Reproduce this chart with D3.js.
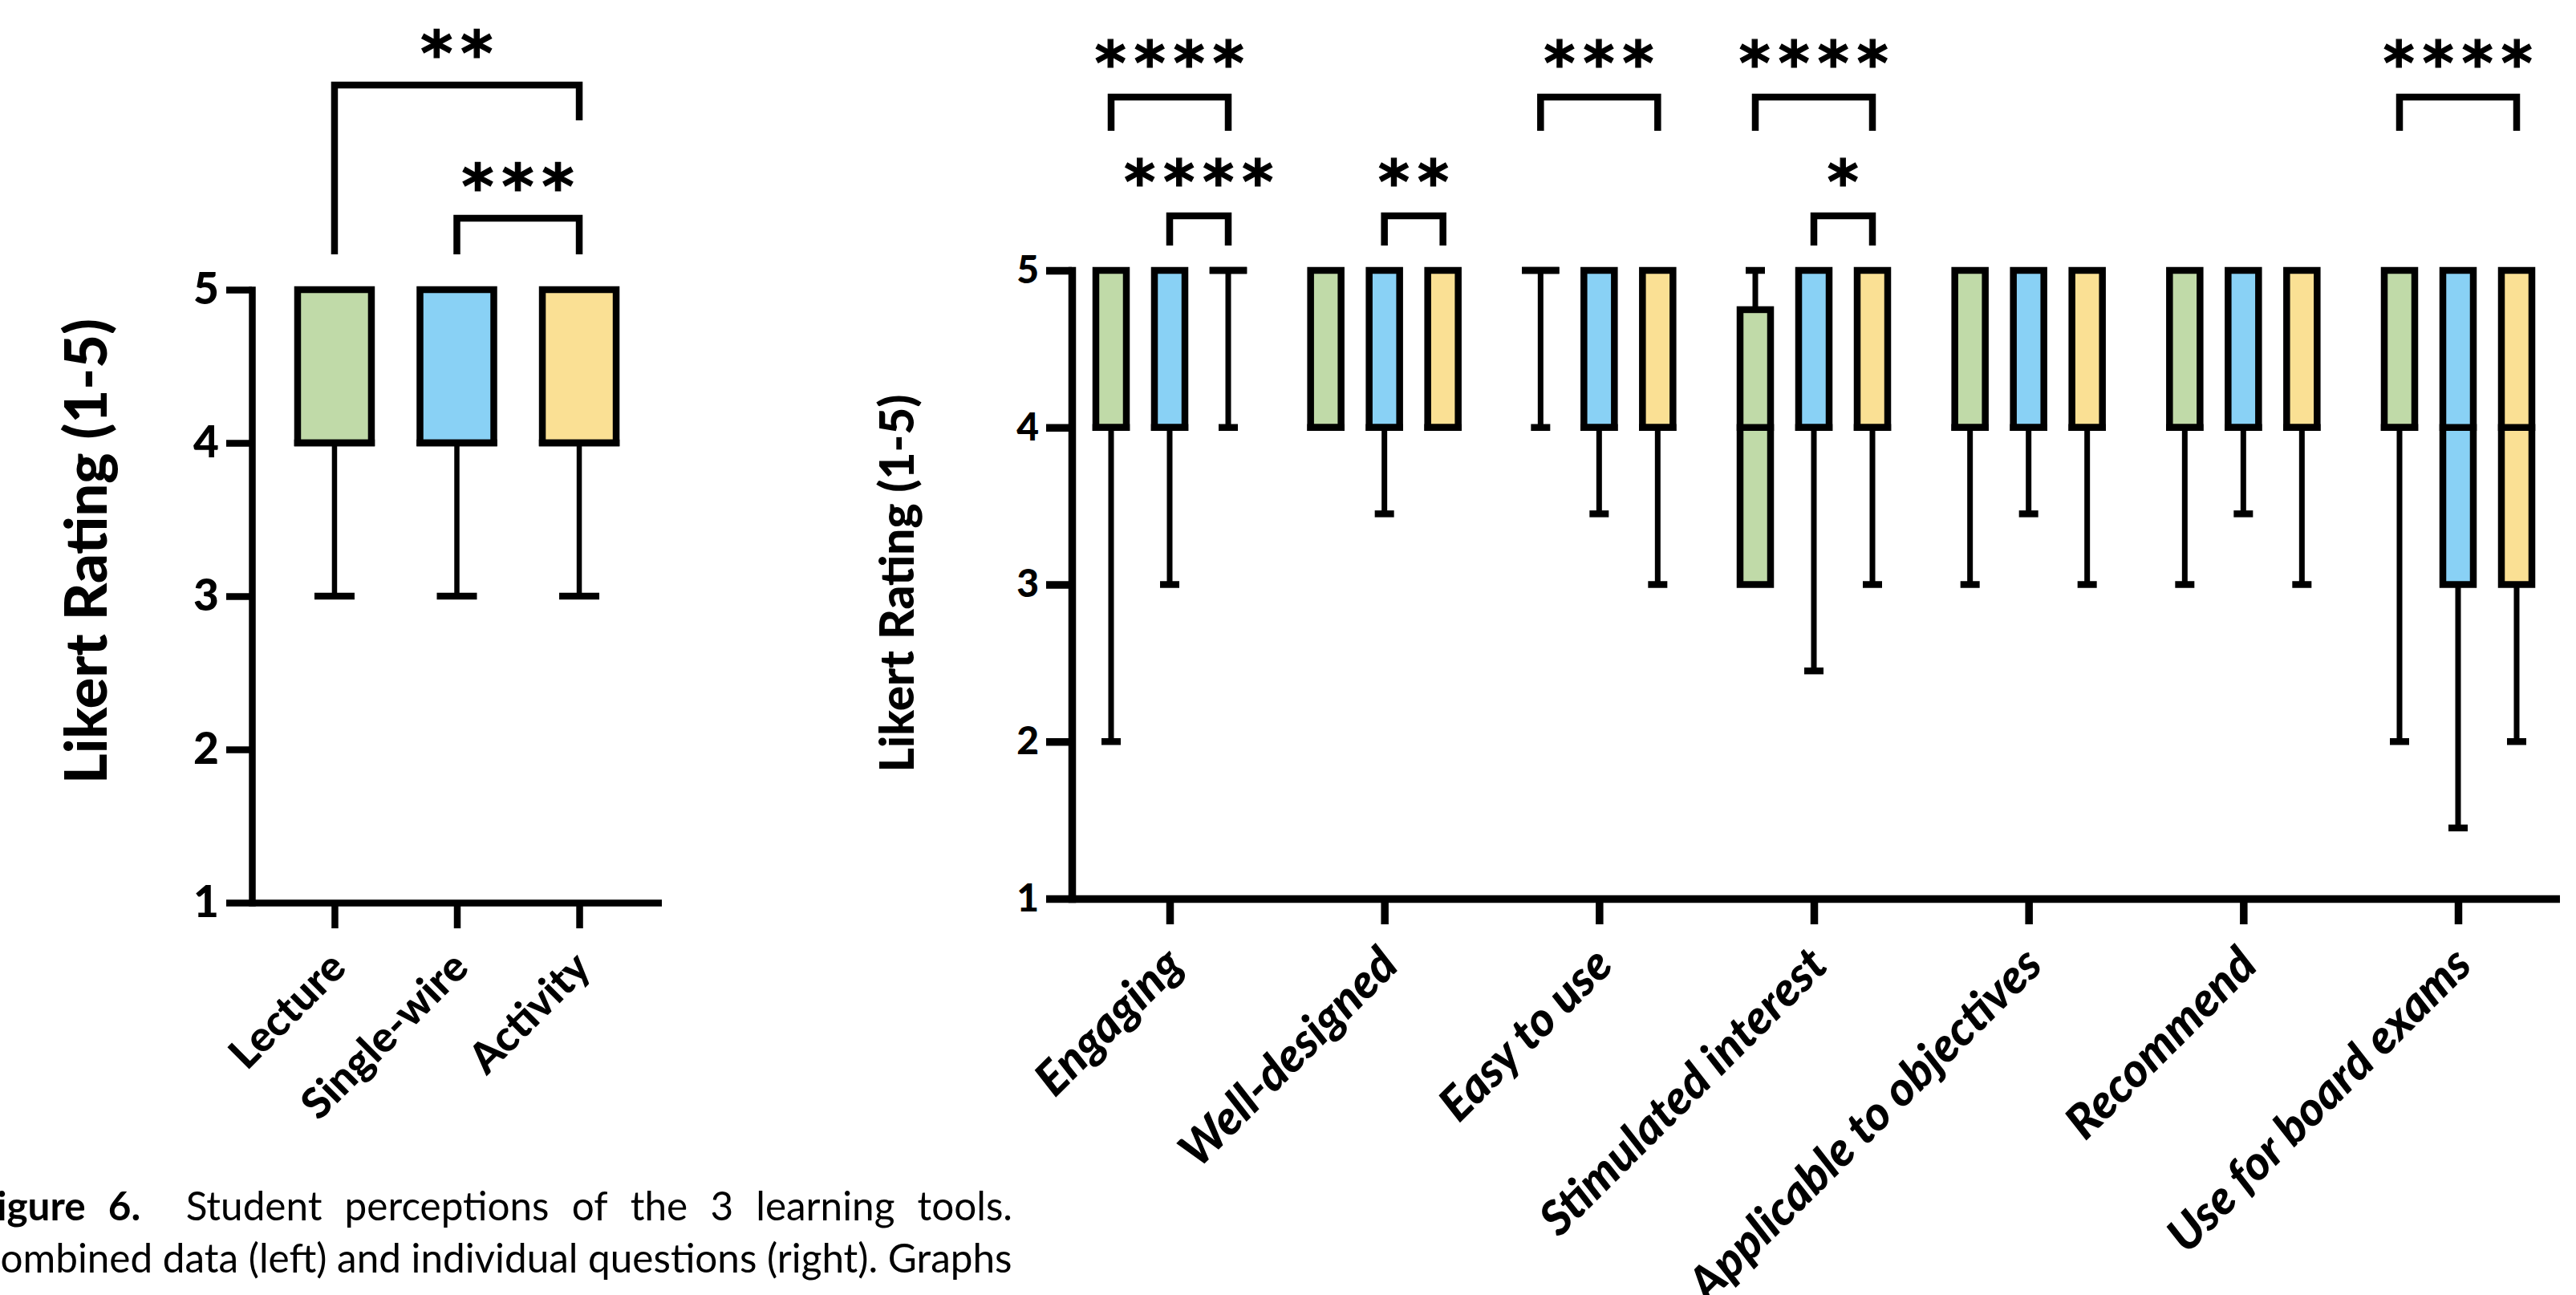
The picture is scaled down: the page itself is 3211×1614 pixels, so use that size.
<!DOCTYPE html>
<html><head><meta charset="utf-8">
<script src="https://cdn.jsdelivr.net/npm/d3@7"></script>
<style>
html,body{margin:0;padding:0;background:#fff;overflow:hidden}
svg{display:block;background:#fff}
</style></head><body>
<svg id="chart" width="3211" height="1614"></svg>
<script>
// ---------------- DATA ----------------
const groups = ["Lecture", "Single-wire", "Activity"];
const yTicks = [1, 2, 3, 4, 5];

// Combined data (left panel)
const combinedMin    = [3, 3, 3];
const combinedQ1     = [4, 4, 4];
const combinedMedian = [4, 4, 4];
const combinedQ3     = [5, 5, 5];
const combinedMax    = [5, 5, 5];

// Individual questions (right panel)
const questions = ["Engaging", "Well-designed", "Easy to use", "Stimulated interest",
                   "Applicable to objectives", "Recommend", "Use for board exams"];
const lectureMin     = [2, 4, 4, 3, 3, 3, 2];
const lectureQ1      = [4, 4, 5, 3, 4, 4, 4];
const lectureMedian  = [4, 4, 5, 4, 4, 4, 4];
const lectureQ3      = [5, 5, 5, 4.75, 5, 5, 5];
const lectureMax     = [5, 5, 5, 5, 5, 5, 5];
const singleMin      = [3, 3.45, 3.45, 2.45, 3.45, 3.45, 1.45];
const singleQ1       = [4, 4, 4, 4, 4, 4, 3];
const singleMedian   = [4, 4, 4, 4, 4, 4, 4];
const singleQ3       = [5, 5, 5, 5, 5, 5, 5];
const singleMax      = [5, 5, 5, 5, 5, 5, 5];
const activityMin    = [4, 4, 3, 3, 3, 3, 2];
const activityQ1     = [5, 4, 4, 4, 4, 4, 3];
const activityMedian = [5, 4, 4, 4, 4, 4, 4];
const activityQ3     = [5, 5, 5, 5, 5, 5, 5];
const activityMax    = [5, 5, 5, 5, 5, 5, 5];

// Significance annotations
const combinedSigFrom  = ["Lecture", "Single-wire"];
const combinedSigTo    = ["Activity", "Activity"];
const combinedSigLevel = [1, 0];
const combinedSigLabel = ["**", "***"];

const questionSigQuestion = ["Engaging", "Engaging", "Well-designed", "Easy to use",
                             "Stimulated interest", "Stimulated interest", "Use for board exams"];
const questionSigFrom  = ["Lecture", "Single-wire", "Single-wire", "Lecture", "Lecture", "Single-wire", "Lecture"];
const questionSigTo    = ["Activity", "Activity", "Activity", "Activity", "Activity", "Activity", "Activity"];
const questionSigLevel = [1, 0, 0, 1, 1, 0, 1];
const questionSigLabel = ["****", "****", "**", "***", "****", "*", "****"];

const yLabel = "Likert Rating (1-5)";
const captionLine1 = [["Figure", true], ["6.", true], ["", false], ["Student", false], ["perceptions", false], ["of", false],
                      ["the", false], ["3", false], ["learning", false], ["tools.", false]];
const captionLine2 = "Combined data (left) and individual questions (right). Graphs";

// ---------------- STYLE / LAYOUT ----------------
const groupColors = {"Lecture": "#C0DAA8", "Single-wire": "#89D1F5", "Activity": "#FAE094"};
const FONT = "Lato, 'Open Sans', sans-serif";
const L = {x0: 314, x1: 825, top: 361, bottom: 1125, boxW: 92, capW: 50, whisk: 6.5, stroke: 8.5,
           axisW: 8.5, tick: 32, tickFont: 55, labelFont: 53, labelItalic: false, weight: 900,
           sigLine0: 89, sigStep: 166, sigLeg0: 45, sigLeg1: 44, sigText: 52, starGap: 50, starH: 36,
           yLabelX: 133, yLabelLen: 580, yLabelCy: 687, labelDx: 17, labelDy: 84};
const R = {x0: 1336, x1: 3191, top: 337, bottom: 1120, boxW: 38, capW: 24, whisk: 7, stroke: 8.5,
           axisW: 9.5, tick: 32, tickFont: 48, labelFont: 59, labelItalic: true, weight: 900,
           sigLine0: 68, sigStep: 148, sigLeg0: 37, sigLeg1: 42, sigText: 54, starGap: 49, starH: 35,
           yLabelX: 1139, yLabelLen: 471, yLabelCy: 727, labelDx: 20, labelDy: 86, groupOffset: 73};

const svg = d3.select("#chart");
svg.append("rect").attr("width", 3211).attr("height", 1614).attr("fill", "#fff");

const ctx = document.createElement("canvas").getContext("2d");
function ink(text, font) { ctx.font = font; return ctx.measureText(text); }

// ---------------- helpers ----------------
function drawAxes(cfg, x, y, cats) {
  const g = svg.append("g");
  const ay = g.append("g").attr("transform", `translate(${cfg.x0},0)`)
    .call(d3.axisLeft(y).tickValues(yTicks).tickFormat(d3.format("d")).tickSize(cfg.tick).tickSizeOuter(0).tickPadding(9));
  ay.select(".domain").attr("stroke", "#000").attr("stroke-width", cfg.axisW).attr("stroke-linecap", "square");
  ay.selectAll(".tick line").attr("stroke", "#000").attr("stroke-width", cfg.axisW);
  ay.selectAll(".tick text").attr("font-family", FONT).attr("font-weight", cfg.weight)
    .attr("font-size", cfg.tickFont).attr("fill", "#000");

  const ax = g.append("g").attr("transform", `translate(0,${cfg.bottom})`)
    .call(d3.axisBottom(x).tickSize(cfg.tick).tickFormat(""));
  ax.select(".domain").remove();
  ax.selectAll(".tick line").attr("stroke", "#000").attr("stroke-width", cfg.axisW);
  g.append("line").attr("x1", cfg.x0).attr("x2", cfg.x1).attr("y1", cfg.bottom + 0.5).attr("y2", cfg.bottom + 0.5)
    .attr("stroke", "#000").attr("stroke-width", cfg.axisW);

  g.selectAll("text.xl").data(cats).join("text").attr("class", "xl")
    .attr("transform", d => `translate(${x(d) + cfg.labelDx},${cfg.bottom + cfg.labelDy}) rotate(-45)`)
    .attr("text-anchor", "end").attr("font-family", FONT).attr("font-weight", cfg.weight)
    .attr("font-style", cfg.labelItalic ? "italic" : "normal")
    .attr("font-size", cfg.labelFont).attr("fill", "#000").text(d => d);

  const t = g.append("text").attr("text-anchor", "middle").attr("font-family", FONT).attr("font-weight", cfg.weight)
    .attr("font-size", 100).attr("fill", "#000").text(yLabel);
  const len = t.node().getComputedTextLength();
  t.attr("font-size", 100 * cfg.yLabelLen / len)
    .attr("transform", `translate(${cfg.yLabelX},${cfg.yLabelCy}) rotate(-90)`);
}

function drawBox(g, cx, s, color, cfg, y) {
  const hw = cfg.boxW / 2;
  if (s.min < s.q1) {
    g.append("line").attr("x1", cx).attr("x2", cx).attr("y1", y(s.q1)).attr("y2", y(s.min))
      .attr("stroke", "#000").attr("stroke-width", cfg.whisk);
    g.append("line").attr("x1", cx - cfg.capW / 2).attr("x2", cx + cfg.capW / 2).attr("y1", y(s.min)).attr("y2", y(s.min))
      .attr("stroke", "#000").attr("stroke-width", cfg.stroke);
  }
  if (s.max > s.q3) {
    g.append("line").attr("x1", cx).attr("x2", cx).attr("y1", y(s.q3)).attr("y2", y(s.max))
      .attr("stroke", "#000").attr("stroke-width", cfg.whisk);
    g.append("line").attr("x1", cx - cfg.capW / 2).attr("x2", cx + cfg.capW / 2).attr("y1", y(s.max)).attr("y2", y(s.max))
      .attr("stroke", "#000").attr("stroke-width", cfg.stroke);
  }
  if (s.q3 > s.q1) {
    g.append("rect").attr("x", cx - hw).attr("width", cfg.boxW).attr("y", y(s.q3)).attr("height", y(s.q1) - y(s.q3))
      .attr("fill", color).attr("stroke", "#000").attr("stroke-width", cfg.stroke);
  } else {
    g.append("line").attr("x1", cx - hw).attr("x2", cx + hw).attr("y1", y(s.q1)).attr("y2", y(s.q1))
      .attr("stroke", "#000").attr("stroke-width", cfg.stroke).attr("stroke-linecap", "square");
  }
  g.append("line").attr("x1", cx - hw).attr("x2", cx + hw).attr("y1", y(s.median)).attr("y2", y(s.median))
    .attr("stroke", "#000").attr("stroke-width", cfg.stroke).attr("stroke-linecap", "square");
}

const STAR_FONT = "700 100px 'DejaVu Sans'";
const starM = ink("*", STAR_FONT);
function drawStars(g, cx, cy, label, cfg) {
  const h = starM.actualBoundingBoxAscent + starM.actualBoundingBoxDescent;
  const k = cfg.starH / h;
  const fs = 100 * k;
  const inkCx = (starM.actualBoundingBoxRight - starM.actualBoundingBoxLeft) / 2 * k;
  const inkCy = (starM.actualBoundingBoxDescent - starM.actualBoundingBoxAscent) / 2 * k;
  const n = label.length;
  const t = g.append("text").attr("font-family", "'DejaVu Sans'").attr("font-weight", 700)
    .attr("font-size", fs).attr("fill", "#000").attr("stroke", "#000").attr("stroke-width", 1.2);
  for (let i = 0; i < n; i++) {
    const sx = cx + (i - (n - 1) / 2) * cfg.starGap;
    t.append("tspan").attr("x", sx - inkCx).attr("y", cy - inkCy).text(label[i]);
  }
}

function drawSig(g, xa, xb, level, label, cfg, y) {
  const top = y(5);
  const ly = top - cfg.sigLine0 - level * cfg.sigStep;
  const legBottom = level === 0 ? ly + cfg.sigLeg0 : ly + cfg.sigLeg1;
  const leftBottom = (cfg === L && level === 1) ? top - cfg.sigLine0 + cfg.sigLeg0 : legBottom;
  g.append("path").attr("d", `M${xa},${leftBottom}V${ly}H${xb}V${legBottom}`)
    .attr("fill", "none").attr("stroke", "#000").attr("stroke-width", cfg.stroke).attr("stroke-linejoin", "miter");
  drawStars(g, (xa + xb) / 2, ly - cfg.sigText, label, cfg);
}

// ---------------- LEFT PANEL ----------------
const xL = d3.scalePoint().domain(groups).range([L.x0, L.x1]).padding(0.675);
const yL = d3.scaleLinear().domain([1, 5]).range([L.bottom, L.top]);
drawAxes(L, xL, yL, groups);
const gL = svg.append("g");
groups.forEach((grp, i) => {
  drawBox(gL, xL(grp), {min: combinedMin[i], q1: combinedQ1[i], median: combinedMedian[i], q3: combinedQ3[i], max: combinedMax[i]},
          groupColors[grp], L, yL);
});
combinedSigLabel.forEach((lab, i) => {
  drawSig(gL, xL(combinedSigFrom[i]), xL(combinedSigTo[i]), combinedSigLevel[i], lab, L, yL);
});

// ---------------- RIGHT PANEL ----------------
const xR = d3.scalePoint().domain(questions).range([1458, 3064]);
const xOff = d3.scalePoint().domain(groups).range([-R.groupOffset, R.groupOffset]);
const yR = d3.scaleLinear().domain([1, 5]).range([R.bottom, R.top]);
drawAxes(R, xR, yR, questions);
const gR = svg.append("g");
const seriesStats = {
  "Lecture": [lectureMin, lectureQ1, lectureMedian, lectureQ3, lectureMax],
  "Single-wire": [singleMin, singleQ1, singleMedian, singleQ3, singleMax],
  "Activity": [activityMin, activityQ1, activityMedian, activityQ3, activityMax]
};
questions.forEach((q, qi) => {
  groups.forEach(grp => {
    const a = seriesStats[grp];
    drawBox(gR, xR(q) + xOff(grp), {min: a[0][qi], q1: a[1][qi], median: a[2][qi], q3: a[3][qi], max: a[4][qi]},
            groupColors[grp], R, yR);
  });
});
questionSigLabel.forEach((lab, i) => {
  const q = questionSigQuestion[i];
  drawSig(gR, xR(q) + xOff(questionSigFrom[i]), xR(q) + xOff(questionSigTo[i]), questionSigLevel[i], lab, R, yR);
});

// ---------------- CAPTION ----------------
(function caption() {
  const x0 = -32, x1 = 1262;
  const probe = svg.append("text").attr("font-family", FONT).attr("font-size", 100).text(captionLine2);
  const w = probe.node().getComputedTextLength();
  probe.remove();
  const fs = Math.min(50, 100 * (x1 - x0) / w);
  svg.append("text").attr("x", x0).attr("y", 1586).attr("font-family", FONT).attr("font-size", fs)
    .attr("fill", "#000").text(captionLine2);
  const g1 = svg.append("g");
  const words = captionLine1.map(([txt, bold]) => {
    const t = g1.append("text").attr("y", 1521).attr("font-family", FONT).attr("font-size", fs)
      .attr("font-weight", bold ? 700 : 400).attr("fill", "#000").text(txt);
    return {t, w: txt ? t.node().getComputedTextLength() : 0};
  });
  const total = d3.sum(words, d => d.w);
  const gap = (x1 - x0 - total) / (words.length - 1);
  let cx = x0;
  words.forEach(d => { d.t.attr("x", cx); cx += d.w + gap; });
})();
</script>
</body></html>
